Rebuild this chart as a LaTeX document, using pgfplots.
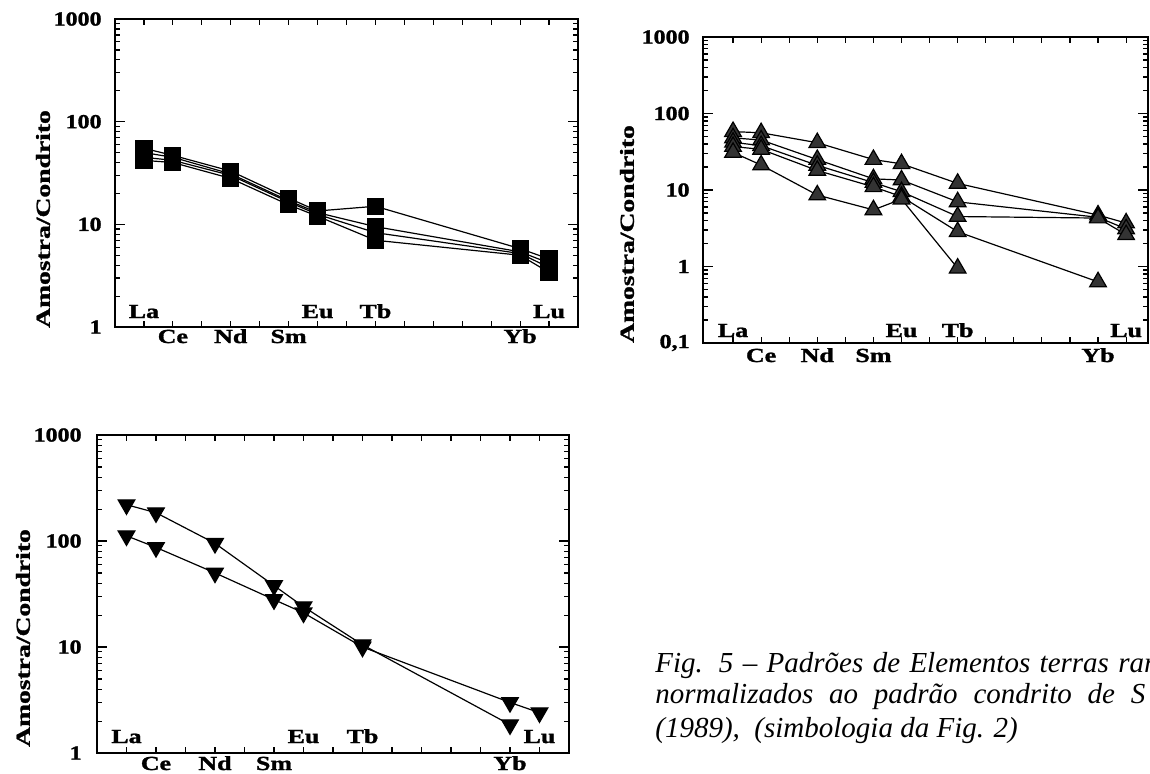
\documentclass[border=0pt]{standalone}
\usepackage{pgfplots}
\pgfplotsset{compat=1.18}
\usepackage{fontspec}
\setmainfont{Liberation Serif}
\newfontface\heavy[FakeBold=1.2]{Liberation Serif Bold}
\usepackage{graphicx}

\newcommand{\bfont}{\fontsize{10pt}{12pt}\selectfont\heavy}
\newcommand{\elab}[1]{\scalebox{1.3}[1]{\bfont #1}}
\newcommand{\tl}[1]{\scalebox{1.2}[1]{\bfont #1}}
\newcommand{\ylab}{\scalebox{1.38}[1]{\bfont Amostra/Condrito}}

\tikzset{ytl/.style={anchor=east, inner sep=0pt, xshift=-6.5pt}}

\pgfplotsset{
  ree/.style={
    scale only axis, anchor=south west,
    xtick={1,...,15}, xticklabels={},
    yticklabels={},
    tick align=inside,
    xtick pos=both, ytick pos=both,
    major tick length=5pt, minor tick length=2.5pt,
    xtick style={/pgfplots/major tick length=3pt},
    axis line style={line width=1pt},
    every tick/.style={black, line width=0.6pt},
    clip=false,
    every axis plot/.append style={black, line width=0.6pt},
  },
}

\begin{document}
\begin{tikzpicture}
\useasboundingbox (0,0) rectangle (575pt,-386.5pt);
\clip (0,0) rectangle (575pt,-386.5pt);

% ---------------- Panel 1 (squares) ----------------
\begin{axis}[ymode=log, ree,
  at={(57.5pt,-163.5pt)}, width=231.5pt, height=154pt,
  xmin=0, xmax=16, ymin=1, ymax=1000,
  ytick={1,10,100,1000},
]
\addplot[mark=square*, mark size=4pt, mark options={fill=black}] coordinates {(1,55)(2,47)(4,33)(6,18)(7,13.5)(9,15)(14,5.8)(15,4.6)};
\addplot[mark=square*, mark size=4pt, mark options={fill=black}] coordinates {(1,50)(2,45)(4,31)(6,17)(7,13)(9,9.5)(14,5.4)(15,4.2)};
\addplot[mark=square*, mark size=4pt, mark options={fill=black}] coordinates {(1,45)(2,42)(4,30)(6,16.5)(7,12.5)(9,8.3)(14,5.2)(15,3.8)};
\addplot[mark=square*, mark size=4pt, mark options={fill=black}] coordinates {(1,42)(2,40)(4,28)(6,15.5)(7,12)(9,7.0)(14,5.0)(15,3.4)};
\node[ytl] at (rel axis cs:0,1) {\tl{1000}};
\node[ytl] at (rel axis cs:0,0.6667) {\tl{100}};
\node[ytl] at (rel axis cs:0,0.3333) {\tl{10}};
\node[ytl] at (rel axis cs:0,0) {\tl{1}};
\node[anchor=base, yshift=4.5pt] at (axis cs:1,1) {\elab{La}};
\node[anchor=base, yshift=4.5pt] at (axis cs:7,1) {\elab{Eu}};
\node[anchor=base, yshift=4.5pt] at (axis cs:9,1) {\elab{Tb}};
\node[anchor=base, yshift=4.5pt] at (axis cs:15,1) {\elab{Lu}};
\node[anchor=base, yshift=-8pt] at (axis cs:2,1) {\elab{Ce}};
\node[anchor=base, yshift=-8pt] at (axis cs:4,1) {\elab{Nd}};
\node[anchor=base, yshift=-8pt] at (axis cs:6,1) {\elab{Sm}};
\node[anchor=base, yshift=-8pt] at (axis cs:14,1) {\elab{Yb}};
\end{axis}
\node[rotate=90] at (21.5pt,-109.5pt) {\ylab};

% ---------------- Panel 2 (triangles) ----------------
\begin{axis}[ymode=log, ree,
  at={(351.5pt,-171.5pt)}, width=222.5pt, height=153pt,
  xmin=-0.07, xmax=15.78, ymin=0.1, ymax=1000,
  ytick={0.1,1,10,100,1000},
]
\addplot[mark=triangle*, mark size=4.8pt, mark options={fill=black!80}] coordinates {(1,58)(2,56)(4,41.5)(6,25)(7,22)(9,12.2)(14,4.7)(15,3.7)};
\addplot[mark=triangle*, mark size=4.8pt, mark options={fill=black!80}] coordinates {(1,48)(2,45)(4,25)(6,14)(7,13.5)(9,7.0)(14,4.4)(15,3.1)};
\addplot[mark=triangle*, mark size=4.8pt, mark options={fill=black!80}] coordinates {(1,42)(2,38)(4,21)(6,12.5)(7,9.5)(9,4.5)(14,4.3)(15,2.6)};
\addplot[mark=triangle*, mark size=4.8pt, mark options={fill=black!80}] coordinates {(1,37)(2,34)(4,18)(6,11)(7,8.2)(9,2.85)(14,0.63)};
\addplot[mark=triangle*, mark size=4.8pt, mark options={fill=black!80}] coordinates {(1,31)(2,21.2)(4,8.6)(6,5.5)(7,7.6)(9,0.95)};
\node[ytl] at (rel axis cs:0,1) {\tl{1000}};
\node[ytl] at (rel axis cs:0,0.75) {\tl{100}};
\node[ytl] at (rel axis cs:0,0.5) {\tl{10}};
\node[ytl] at (rel axis cs:0,0.25) {\tl{1}};
\node[ytl] at (rel axis cs:0,0) {\tl{0,1}};
\node[anchor=base, yshift=3pt] at (axis cs:1,0.1) {\elab{La}};
\node[anchor=base, yshift=3pt] at (axis cs:7,0.1) {\elab{Eu}};
\node[anchor=base, yshift=3pt] at (axis cs:9,0.1) {\elab{Tb}};
\node[anchor=base, yshift=3pt] at (axis cs:15,0.1) {\elab{Lu}};
\node[anchor=base, yshift=-9.5pt] at (axis cs:2,0.1) {\elab{Ce}};
\node[anchor=base, yshift=-9.5pt] at (axis cs:4,0.1) {\elab{Nd}};
\node[anchor=base, yshift=-9.5pt] at (axis cs:6,0.1) {\elab{Sm}};
\node[anchor=base, yshift=-9.5pt] at (axis cs:14,0.1) {\elab{Yb}};
\end{axis}
\node[rotate=90] at (313.5pt,-117pt) {\ylab};

% ---------------- Panel 3 (inverted triangles) ----------------
\begin{axis}[ymode=log, ree,
  at={(48.5pt,-376.5pt)}, width=236pt, height=159pt,
  xmin=0, xmax=16, ymin=1, ymax=1000,
  ytick={1,10,100,1000},
]
\addplot[mark=triangle*, mark size=4.8pt, mark options={fill=black, rotate=180}] coordinates {(1,220)(2,185)(4,95)(6,38)(7,24)(9,10.5)(14,1.85)};
\addplot[mark=triangle*, mark size=4.8pt, mark options={fill=black, rotate=180}] coordinates {(1,112)(2,87)(4,50)(6,28)(7,21)(9,10)(14,3.0)(15,2.4)};
\node[ytl, xshift=-1pt] at (rel axis cs:0,1) {\tl{1000}};
\node[ytl, xshift=-1pt] at (rel axis cs:0,0.6667) {\tl{100}};
\node[ytl, xshift=-1pt] at (rel axis cs:0,0.3333) {\tl{10}};
\node[ytl, xshift=-1pt] at (rel axis cs:0,0) {\tl{1}};
\node[anchor=base, yshift=5pt] at (axis cs:1,1) {\elab{La}};
\node[anchor=base, yshift=5pt] at (axis cs:7,1) {\elab{Eu}};
\node[anchor=base, yshift=5pt] at (axis cs:9,1) {\elab{Tb}};
\node[anchor=base, yshift=5pt] at (axis cs:15,1) {\elab{Lu}};
\node[anchor=base, yshift=-8.5pt] at (axis cs:2,1) {\elab{Ce}};
\node[anchor=base, yshift=-8.5pt] at (axis cs:4,1) {\elab{Nd}};
\node[anchor=base, yshift=-8.5pt] at (axis cs:6,1) {\elab{Sm}};
\node[anchor=base, yshift=-8.5pt] at (axis cs:14,1) {\elab{Yb}};
\end{axis}
\node[rotate=90] at (11.5pt,-319pt) {\ylab};

% ---------------- Caption ----------------
\begin{scope}[font=\fontsize{14.5pt}{17pt}\selectfont\itshape]
\node[anchor=base west, inner sep=0pt] at (327.5pt,-336pt) {\hbox to 250pt{Fig. 5 – Padrões de Elementos terras rar}};
\node[anchor=base west, inner sep=0pt] at (327.5pt,-351.5pt) {\hbox to 245pt{normalizados ao padrão condrito de S}};
\node[anchor=base west, inner sep=0pt] at (327.5pt,-368.5pt) {\hbox{(1989),\ \ (simbologia da Fig. 2)}};
\end{scope}
\end{tikzpicture}
\end{document}
